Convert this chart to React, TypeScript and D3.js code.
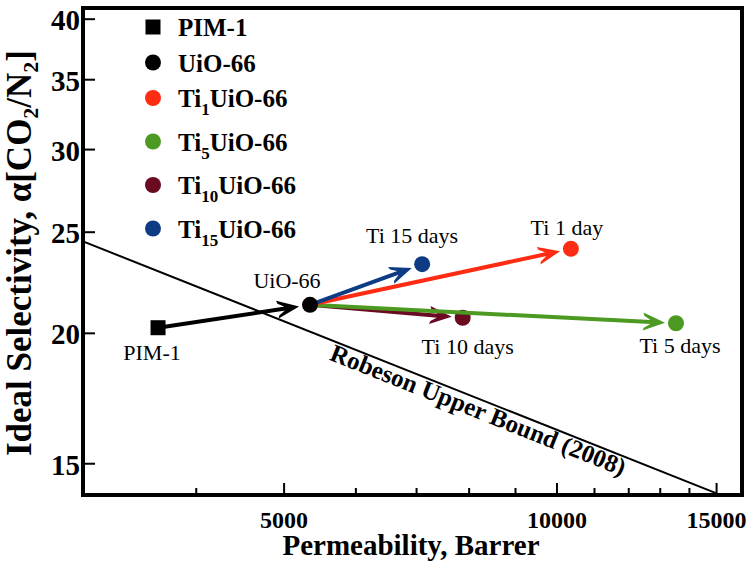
import React, { useEffect, useRef } from "react";
import * as d3 from "d3";

// data (log-log)
const materials = ["PIM-1", "UiO-66", "Ti1", "Ti5", "Ti10", "Ti15"];
const permeability = [3630, 5340, 10360, 13530, 7870, 7100];
const selectivity = [20.25, 21.3, 24.1, 20.45, 20.7, 23.3];
const pointLabels = ["PIM-1", "UiO-66", "Ti 1 day", "Ti 5 days", "Ti 10 days", "Ti 15 days"];
const legendSubs = ["", "", "1", "5", "10", "15"];
const colors = ["#000000", "#000000", "#ff2b12", "#4c9a22", "#6a0b22", "#0d3b84"];

// arrows: from index -> to index
const arrowFrom = [1, 1, 1, 1, 0];
const arrowTo = [4, 3, 2, 5, 1];

// Robeson upper bound (2008) end points
const robesonP = [3000, 15000];
const robesonA = [24.5, 14.05];

const xMajorTicks = [5000, 10000, 15000];
const xMinorTicks = [4000, 6000, 7000, 8000, 9000, 11000, 12000, 13000, 14000];
const yTicks = [15, 20, 25, 30, 35, 40];

const FONT = "'Liberation Serif', 'Times New Roman', serif";

export default function App() {
    const ref = useRef<SVGSVGElement | null>(null);

    useEffect(() => {
        const width = 755;
        const height = 569;
        const left = 83, right = 742, top = 8, bottom = 495;

        const svg = d3.select(ref.current);
        svg.selectAll("*").remove();

        const xScale = d3.scaleLog().domain([3000, 16000]).range([left, right]);
        const yScale = d3.scaleLog().domain([14, 41]).range([bottom, top]);

        svg.attr("width", width).attr("height", height);
        svg.append("rect").attr("width", width).attr("height", height).attr("fill", "#fff");

        // Robeson line
        const rob = robesonP.map((p, i) => [xScale(p), yScale(robesonA[i])] as [number, number]);
        svg.append("path")
            .attr("d", d3.line()(rob) as string)
            .attr("stroke", "#000")
            .attr("stroke-width", 2)
            .attr("fill", "none");

        const t = 0.63;
        const rx = rob[0][0] + (rob[1][0] - rob[0][0]) * t;
        const ry = rob[0][1] + (rob[1][1] - rob[0][1]) * t;
        const ang = (Math.atan2(rob[1][1] - rob[0][1], rob[1][0] - rob[0][0]) * 180) / Math.PI;
        svg.append("text")
            .attr("transform", `translate(${rx},${ry}) rotate(${ang})`)
            .attr("dy", 19)
            .attr("text-anchor", "middle")
            .attr("font-family", FONT)
            .attr("font-weight", "bold")
            .attr("font-size", 25)
            .text("Robeson Upper Bound (2008)");

        // arrows + markers
        const drawMarker = (i: number) => {
            const cx = xScale(permeability[i]);
            const cy = yScale(selectivity[i]);
            if (i === 0) {
                svg.append("rect")
                    .attr("x", cx - 7.5).attr("y", cy - 7.5)
                    .attr("width", 15).attr("height", 15)
                    .attr("fill", colors[i]);
            } else {
                svg.append("circle").attr("cx", cx).attr("cy", cy).attr("r", 8).attr("fill", colors[i]);
            }
        };

        const drawArrow = (a: number, b: number, color: string) => {
            const x0 = xScale(permeability[a]), y0 = yScale(selectivity[a]);
            const x1 = xScale(permeability[b]), y1 = yScale(selectivity[b]);
            const len = Math.hypot(x1 - x0, y1 - y0);
            const ux = (x1 - x0) / len, uy = (y1 - y0) / len;
            const nx = -uy, ny = ux;
            const gap = 11;
            const tx = x1 - ux * gap, ty = y1 - uy * gap;
            svg.append("line")
                .attr("x1", x0).attr("y1", y0)
                .attr("x2", tx - ux * 14).attr("y2", ty - uy * 14)
                .attr("stroke", color)
                .attr("stroke-width", 4);
            const pts: [number, number][] = [
                [0, 0], [-22, 9], [-21, 6], [-15, 2.2], [-15, -2.2], [-21, -6], [-22, -9],
            ].map(([u, n]) => [tx + ux * u + nx * n, ty + uy * u + ny * n]);
            svg.append("path")
                .attr("d", "M" + pts.map(p => p.join(",")).join("L") + "Z")
                .attr("fill", color);
        };

        arrowTo.forEach((b, k) => {
            drawArrow(arrowFrom[k], b, colors[b]);
            if (b !== 1) drawMarker(b);
        });
        drawMarker(0);
        drawMarker(1);

        // point labels
        const labelOffset = [[-6, 32], [-23, -17], [-4, -14], [4, 30], [5, 36], [-10, -21]];
        materials.forEach((m, i) => {
            svg.append("text")
                .attr("x", xScale(permeability[i]) + labelOffset[i][0])
                .attr("y", yScale(selectivity[i]) + labelOffset[i][1])
                .attr("text-anchor", "middle")
                .attr("font-family", FONT)
                .attr("font-size", 22)
                .text(pointLabels[i]);
        });

        // frame
        svg.append("rect")
            .attr("x", left).attr("y", top)
            .attr("width", right - left).attr("height", bottom - top)
            .attr("fill", "none")
            .attr("stroke", "#000")
            .attr("stroke-width", 4);

        // x ticks
        xMajorTicks.forEach(v => {
            svg.append("line")
                .attr("x1", xScale(v)).attr("x2", xScale(v))
                .attr("y1", bottom).attr("y2", bottom - 12)
                .attr("stroke", "#000").attr("stroke-width", 2);
            svg.append("text")
                .attr("x", xScale(v)).attr("y", 528)
                .attr("text-anchor", "middle")
                .attr("font-family", FONT).attr("font-weight", "bold").attr("font-size", 24)
                .text(d3.format("d")(v));
        });
        xMinorTicks.forEach(v => {
            svg.append("line")
                .attr("x1", xScale(v)).attr("x2", xScale(v))
                .attr("y1", bottom).attr("y2", bottom - 7)
                .attr("stroke", "#000").attr("stroke-width", 2);
        });

        // y ticks
        yTicks.forEach(v => {
            svg.append("line")
                .attr("x1", left).attr("x2", left + 12)
                .attr("y1", yScale(v)).attr("y2", yScale(v))
                .attr("stroke", "#000").attr("stroke-width", 2);
            svg.append("text")
                .attr("x", 80).attr("y", yScale(v) + 11)
                .attr("text-anchor", "end")
                .attr("font-family", FONT).attr("font-weight", "bold").attr("font-size", 29)
                .text(String(v));
        });

        // axis titles
        svg.append("text")
            .attr("x", 411).attr("y", 555)
            .attr("text-anchor", "middle")
            .attr("font-family", FONT).attr("font-weight", "bold").attr("font-size", 29)
            .text("Permeability, Barrer");

        const yl = svg.append("text")
            .attr("transform", "translate(31,253) rotate(-90)")
            .attr("text-anchor", "middle")
            .attr("font-family", FONT).attr("font-weight", "bold").attr("font-size", 35);
        yl.append("tspan").text("Ideal Selectivity, α[CO");
        yl.append("tspan").attr("font-size", 22).attr("dy", 7).text("2");
        yl.append("tspan").attr("dy", -7).text("/N");
        yl.append("tspan").attr("font-size", 22).attr("dy", 7).text("2");
        yl.append("tspan").attr("dy", -7).text("]");

        // legend
        materials.forEach((m, i) => {
            const ly = i < 3 ? 27 + 35.5 * i : 98 + 43.5 * (i - 2);
            if (i === 0) {
                svg.append("rect").attr("x", 153 - 7.5).attr("y", ly - 7.5)
                    .attr("width", 15).attr("height", 15).attr("fill", colors[i]);
            } else {
                svg.append("circle").attr("cx", 153).attr("cy", ly).attr("r", 8).attr("fill", colors[i]);
            }
            const txt = svg.append("text")
                .attr("x", 178).attr("y", ly + 9)
                .attr("font-family", FONT).attr("font-weight", "bold").attr("font-size", 25);
            if (legendSubs[i]) {
                txt.append("tspan").text("Ti");
                txt.append("tspan").attr("font-size", 17).attr("dy", 8).text(legendSubs[i]);
                txt.append("tspan").attr("dy", -8).text("UiO-66");
            } else {
                txt.text(m);
            }
        });
    }, []);

    return (
        <svg ref={ref} style={{ position: "absolute", left: 0, top: 0 }} />
    );
}
